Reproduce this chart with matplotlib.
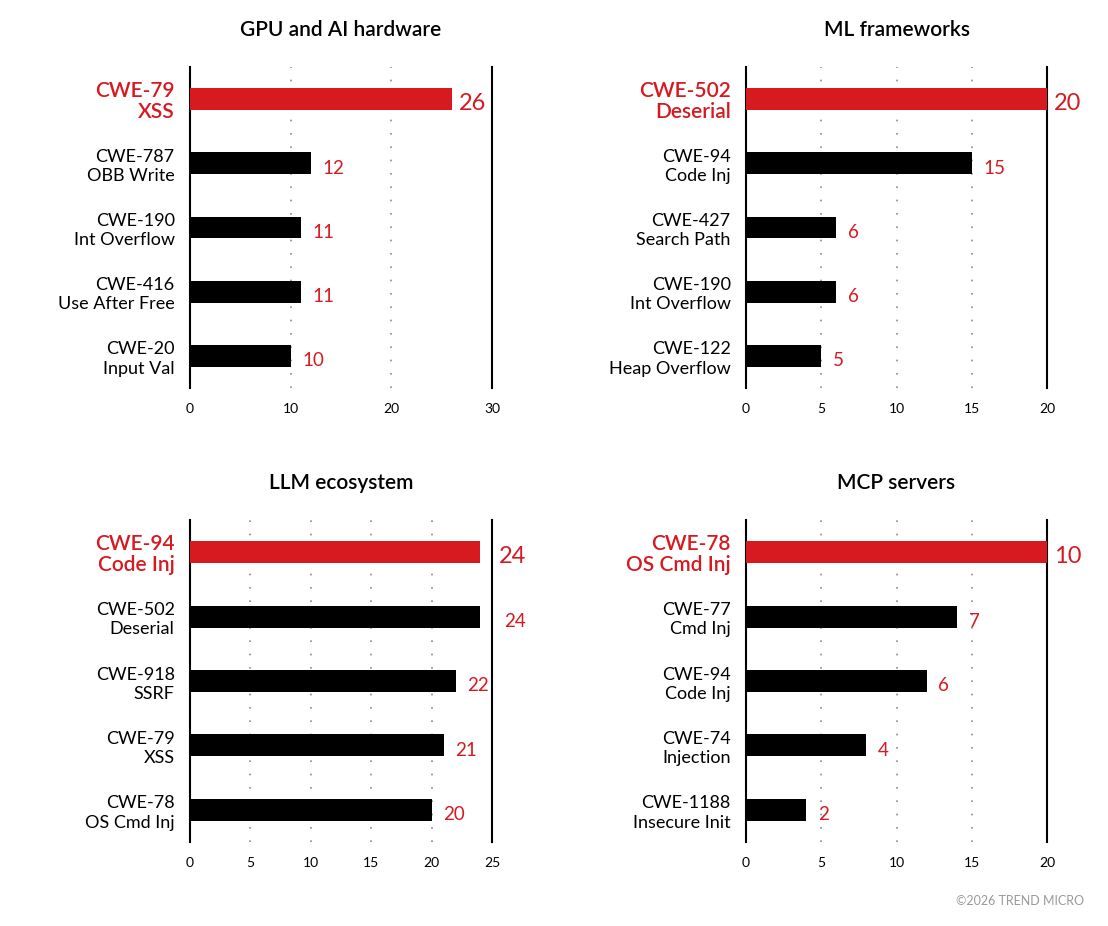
import matplotlib
matplotlib.use("Agg")
import matplotlib.pyplot as plt
from matplotlib.transforms import offset_copy

plt.rcParams['font.family'] = ['Lato', 'DejaVu Sans']

RED = '#D71920'

# ---- data ----
gpu_title = "GPU and AI hardware"
gpu_labels = ["CWE-79\nXSS", "CWE-787\nOBB Write", "CWE-190\nInt Overflow",
              "CWE-416\nUse After Free", "CWE-20\nInput Val"]
gpu_bars = [26, 12, 11, 11, 10]
gpu_value_text = ["26", "12", "11", "11", "10"]
gpu_ticks = [0, 10, 20, 30]

ml_title = "ML frameworks"
ml_labels = ["CWE-502\nDeserial", "CWE-94\nCode Inj", "CWE-427\nSearch Path",
             "CWE-190\nInt Overflow", "CWE-122\nHeap Overflow"]
ml_bars = [20, 15, 6, 6, 5]
ml_value_text = ["20", "15", "6", "6", "5"]
ml_ticks = [0, 5, 10, 15, 20]

llm_title = "LLM ecosystem"
llm_labels = ["CWE-94\nCode Inj", "CWE-502\nDeserial", "CWE-918\nSSRF",
              "CWE-79\nXSS", "CWE-78\nOS Cmd Inj"]
llm_bars = [24, 24, 22, 21, 20]
llm_value_text = ["24", "24", "22", "21", "20"]
llm_ticks = [0, 5, 10, 15, 20, 25]

mcp_title = "MCP servers"
mcp_labels = ["CWE-78\nOS Cmd Inj", "CWE-77\nCmd Inj", "CWE-94\nCode Inj",
              "CWE-74\nInjection", "CWE-1188\nInsecure Init"]
mcp_bars = [20, 14, 12, 8, 4]          # bar lengths as drawn in the picture
mcp_value_text = ["10", "7", "6", "4", "2"]  # printed value labels
mcp_ticks = [0, 5, 10, 15, 20]

footer = "©2026 TREND MICRO"

W, H = 1108, 926
fig = plt.figure(figsize=(W / 100, H / 100), dpi=100)


def panel(rect_px, title, labels, bars, vtext, ticks):
    x0, y0, x1, y1 = rect_px
    ax = fig.add_axes([x0 / W, 1 - y1 / H, (x1 - x0) / W, (y1 - y0) / H])
    n = len(bars)
    pos = list(range(n))
    colors = [RED] + ['black'] * (n - 1)
    ax.barh(pos, bars, height=0.34, color=colors, zorder=3)
    ax.set_ylim(n - 0.5, -0.5)
    xmax = ticks[-1]
    ax.set_xlim(ticks[0], xmax)
    ax.set_xticks(ticks)
    ax.set_xticklabels([str(t) for t in ticks], fontsize=10)
    ax.set_yticks(pos)
    ax.set_yticklabels(labels)
    for i, lbl in enumerate(ax.get_yticklabels()):
        if i == 0:
            lbl.set_color(RED)
            lbl.set_fontsize(15)
            lbl.set_fontweight('semibold')
            lbl.set_linespacing(1.05)
        else:
            lbl.set_color('black')
            lbl.set_fontsize(13)
            lbl.set_linespacing(1.25)
    ax.tick_params(axis='both', length=0)
    ax.tick_params(axis='y', pad=11)
    ax.tick_params(axis='x', pad=11)
    for s in ('top', 'bottom'):
        ax.spines[s].set_visible(False)
    for s in ('left', 'right'):
        ax.spines[s].set_linewidth(1.5)
        ax.spines[s].set_color('black')
    for t in ticks[1:-1]:
        ax.axvline(t, color='#8a8a8a', linewidth=1.2, dashes=(1, 7), zorder=1)
    span = xmax - ticks[0]
    for i, (b, txt) in enumerate(zip(bars, vtext)):
        # labels that would collide with the right frame go past it
        anchor = xmax if (b < xmax and xmax - b < 0.06 * span) else b
        if i == 0:
            tr = offset_copy(ax.transData, fig=fig, x=5, y=-3, units='points')
            ax.text(anchor, i, txt, transform=tr, color=RED, fontsize=17,
                    va='center', ha='left', clip_on=False)
        else:
            tr = offset_copy(ax.transData, fig=fig, x=8.5, y=-3.5, units='points')
            ax.text(anchor, i, txt, transform=tr, color=RED, fontsize=13.5,
                    va='center', ha='left', clip_on=False)
    ax.set_title(title, fontsize=15, fontweight='semibold', pad=22)
    return ax


panel((190, 67, 492, 388), gpu_title, gpu_labels, gpu_bars, gpu_value_text, gpu_ticks)
panel((746, 67, 1047, 388), ml_title, ml_labels, ml_bars, ml_value_text, ml_ticks)
panel((190, 520, 492, 842), llm_title, llm_labels, llm_bars, llm_value_text, llm_ticks)
panel((746, 520, 1047, 842), mcp_title, mcp_labels, mcp_bars, mcp_value_text, mcp_ticks)

fig.text(1084 / W, 1 - 901 / H, footer, ha='right', va='center',
         fontsize=9, color='#9a9a9a')

fig.savefig('out.png', dpi=100)
